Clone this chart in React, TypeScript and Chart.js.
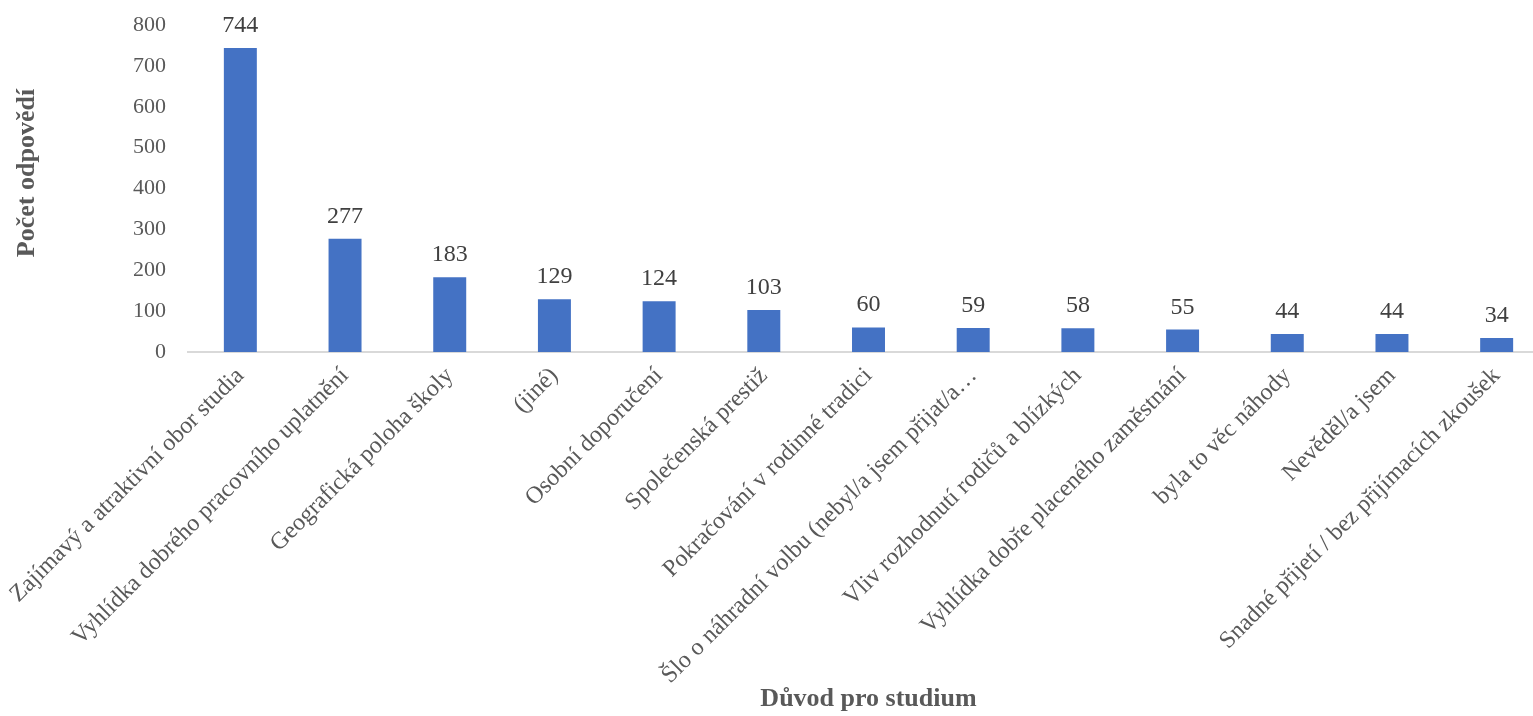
import React, { useEffect, useRef } from "react";
import { Chart, registerables } from "chart.js";

Chart.register(...registerables);

const categories = [
  "Zajímavý a atraktivní obor studia",
  "Vyhlídka dobrého pracovního uplatnění",
  "Geografická poloha školy",
  "(jiné)",
  "Osobní doporučení",
  "Společenská prestiž",
  "Pokračování v rodinné tradici",
  "Šlo o náhradní volbu (nebyl/a jsem přijat/a…",
  "Vliv rozhodnutí rodičů a blízkých",
  "Vyhlídka dobře placeného zaměstnání",
  "byla to věc náhody",
  "Nevěděl/a jsem",
  "Snadné přijetí / bez přijímacích zkoušek",
];
const values = [744, 277, 183, 129, 124, 103, 60, 59, 58, 55, 44, 44, 34];
const yTicks = [0, 100, 200, 300, 400, 500, 600, 700, 800];
const yTitle = "Počet odpovědí";
const xTitle = "Důvod pro studium";

const FONT = "'Liberation Serif', 'Times New Roman', serif";

const labelsPlugin = {
  id: "labelsPlugin",
  afterDatasetsDraw(chart: any) {
    const ctx = chart.ctx;
    const meta = chart.getDatasetMeta(0);
    ctx.save();
    ctx.font = `24px ${FONT}`;
    ctx.fillStyle = "#404040";
    ctx.textAlign = "center";
    ctx.textBaseline = "alphabetic";
    meta.data.forEach((bar: any, i: number) => {
      ctx.fillText(String(values[i]), bar.x, bar.y - 16);
    });
    // y axis title
    ctx.font = `bold 26px ${FONT}`;
    ctx.fillStyle = "#595959";
    ctx.textBaseline = "middle";
    ctx.translate(27, 173);
    ctx.rotate(-Math.PI / 2);
    ctx.fillText(yTitle, 0, 0);
    ctx.restore();
  },
};

export default function App() {
  const ref = useRef<HTMLCanvasElement | null>(null);
  useEffect(() => {
    if (!ref.current) return;
    const chart = new Chart(ref.current, {
      type: "bar",
      data: {
        labels: categories,
        datasets: [
          {
            data: values,
            backgroundColor: "#4472C4",
            categoryPercentage: 1,
            barPercentage: 0.315,
          },
        ],
      },
      options: {
        animation: false,
        responsive: true,
        maintainAspectRatio: false,
        layout: { padding: { top: 25, left: 0, right: 0, bottom: 0 } },
        plugins: { legend: { display: false }, tooltip: { enabled: false } },
        scales: {
          x: {
            grid: { display: false, drawTicks: false },
            border: { display: true, color: "#d9d9d9", width: 2 },
            ticks: {
              minRotation: 45,
              maxRotation: 45,
              autoSkip: false,
              padding: 10,
              color: "#595959",
              font: { family: FONT, size: 24 },
            },
            title: {
              display: true,
              text: xTitle,
              color: "#595959",
              font: { family: FONT, size: 26, weight: "bold" },
              padding: { top: 0, bottom: 1 },
            },
            afterFit: (s: any) => {
              s.height = 364;
              s.paddingLeft = 0;
              s.paddingRight = 0;
            },
          },
          y: {
            min: 0,
            max: 800,
            afterBuildTicks: (s: any) => {
              s.ticks = yTicks.map((v) => ({ value: v }));
            },
            grid: { display: false, drawTicks: false },
            border: { display: false },
            ticks: {
              padding: 22,
              color: "#595959",
              font: { family: FONT, size: 22 },
            },
            title: { display: false },
            afterFit: (s: any) => {
              s.width = 188;
              s.paddingTop = 0;
              s.paddingBottom = 0;
            },
          },
        },
      },
      plugins: [labelsPlugin],
    });
    return () => chart.destroy();
  }, []);
  return (
    <div
      style={{
        position: "fixed",
        left: 0,
        top: 0,
        width: 1549,
        height: 716,
        background: "#ffffff",
      }}
    >
      <canvas ref={ref} />
    </div>
  );
}
